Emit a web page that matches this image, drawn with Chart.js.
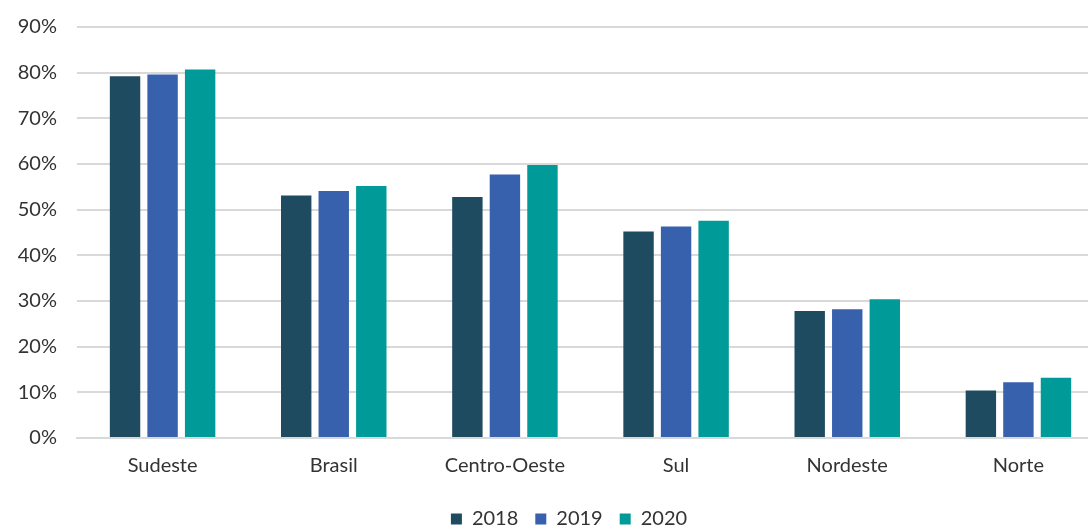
<!DOCTYPE html>
<html>
<head>
<meta charset="utf-8">
<script src="https://cdn.jsdelivr.net/npm/chart.js@4"></script>
<style>
  html, body { margin: 0; padding: 0; background: #fff; overflow: hidden; }
  #wrap { width: 1104px; height: 527px; position: relative; }
</style>
</head>
<body>
<div id="wrap"><canvas id="bar_chart"></canvas></div>
<script>
// DATA
const regions = ["Sudeste", "Brasil", "Centro-Oeste", "Sul", "Nordeste", "Norte"];
const years = ["2018", "2019", "2020"];
const values_2018 = [79.2, 53.1, 52.8, 45.2, 27.8, 10.4];
const values_2019 = [79.6, 54.1, 57.7, 46.3, 28.2, 12.2];
const values_2020 = [80.7, 55.2, 59.8, 47.6, 30.4, 13.2];
const y_ticks = [0, 10, 20, 30, 40, 50, 60, 70, 80, 90];

const colors = ["#1f4b60", "#3761ad", "#009a99"];
const text_color = "#333333";
const font_family = "Lato, 'Noto Sans', sans-serif";

const ctx = document.getElementById("bar_chart").getContext("2d");

const series = [values_2018, values_2019, values_2020];

// legend sits a bit right of the canvas centre in the original
const legendShift = {
  id: "legendShift",
  beforeDraw(chart) {
    chart.legend.left += 17;
    chart.legend.right += 17;
  },
};

const my_chart = new Chart(ctx, {
  type: "bar",
  data: {
    labels: regions,
    datasets: years.map((year, i) => ({
      label: year,
      data: series[i],
      backgroundColor: colors[i],
      borderColor: colors[i],
      borderWidth: 0,
      categoryPercentage: 0.658,
      barPercentage: 0.81,
    })),
  },
  plugins: [legendShift],
  options: {
    responsive: true,
    maintainAspectRatio: false,
    animation: false,
    layout: {
      padding: { top: 27, left: 0, right: 0, bottom: -12 },
    },
    plugins: {
      tooltip: { enabled: false },
      legend: {
        position: "bottom",
        labels: {
          boxWidth: 11,
          boxHeight: 11,
          padding: 17,
          color: text_color,
          font: { family: font_family, size: 20 },
        },
      },
    },
    scales: {
      x: {
        afterFit: (scale) => {
          scale.height -= 2;
        },
        grid: { display: false, drawTicks: false },
        border: { display: true, color: "#d9d9d9", width: 2 },
        ticks: {
          color: text_color,
          padding: 16,
          font: { family: font_family, size: 20 },
        },
      },
      y: {
        min: 0,
        max: 90,
        afterBuildTicks: (scale) => {
          scale.ticks = y_ticks.map((v) => ({ value: v }));
        },
        afterFit: (scale) => {
          scale.width = 77;
          scale.paddingTop = 0;
          scale.paddingBottom = 0;
        },
        grid: { color: "#d9d9d9", lineWidth: 2, drawTicks: false },
        border: { display: false },
        ticks: {
          color: text_color,
          padding: 20,
          font: { family: font_family, size: 20 },
          callback: (v) => v + "%",
        },
      },
    },
  },
});
</script>
</body>
</html>
